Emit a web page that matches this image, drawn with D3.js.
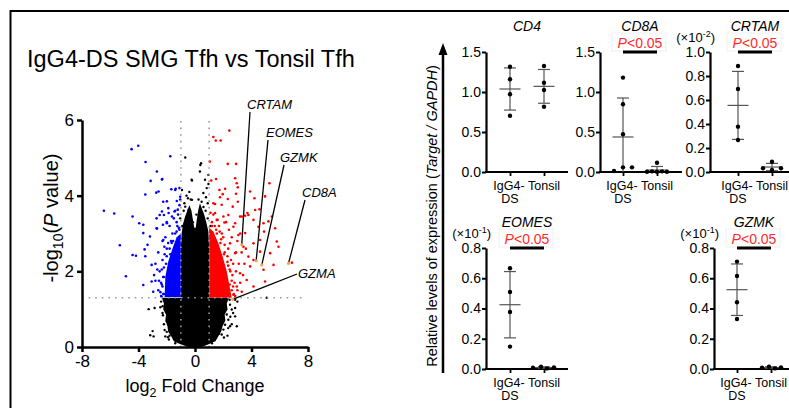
<!DOCTYPE html>
<html>
<head>
<meta charset="utf-8">
<title>IgG4-DS SMG Tfh vs Tonsil Tfh</title>
<script src="https://cdn.jsdelivr.net/npm/d3@7"></script>
<style>
  html, body { margin: 0; background: #fff; }
  svg { font-family: "Liberation Sans", Arial, sans-serif; }
</style>
</head>
<body>
<svg id="fig" width="789" height="408"></svg>
<script>
// ---- volcano plot data (log2 fold change, -log10 P) ----
var volcanoXTicks = [-8, -4, 0, 4, 8];
var volcanoYTicks = [0, 2, 4, 6];
var sigLine = 1.3;
var fcLines = [-1, 1];

// dense core of non-significant genes (outline)
var blackCloud = [[-0.5,0],[-1.2,0.1],[-1.5,0.15],[-1.7,0.3],[-1.9,0.4],[-1.95,0.55],[-2.1,0.7],[-2.05,0.85],
  [-2.25,1.0],[-2.2,1.15],[-2.35,1.3],[-1.0,1.3],
  [-1.0,2.6],[-0.95,3.0],[-0.85,3.25],[-0.7,3.45],[-0.55,3.6],[-0.4,3.75],[-0.25,3.6],[-0.12,3.3],[-0.05,3.15],
  [0.05,3.15],[0.12,3.35],[0.22,3.6],[0.35,3.8],[0.5,3.65],[0.65,3.5],[0.8,3.3],[0.95,3.05],[1.0,2.6],
  [1.0,1.3],[2.4,1.3],[2.25,1.15],[2.3,1.0],[2.1,0.85],[2.15,0.7],[1.95,0.55],[1.85,0.4],[1.6,0.25],
  [1.45,0.15],[1.0,0.08],[0.5,0]];
var volcanoBlack = [[-3.28,1.0],[-2.86,1.03],[-2.29,1.08],[-2.27,0.84],[-3.0,0.42],[-3.17,0.31],[-2.93,0.28],
  [-2.1,0.28],[-1.91,0.26],[-1.75,0.59],[-1.99,0.68],[-1.63,0.86],
  [2.84,1.25],[2.48,1.12],[2.6,0.99],[2.25,0.86],[2.84,0.81],[2.36,0.72],[2.96,0.55],[2.48,0.55],
  [2.13,0.59],[2.01,0.46],[1.89,0.33],[5.08,1.3],[2.84,1.03],
  [-0.69,5.01],[-0.21,4.4],[-0.92,4.15],[-0.5,3.93],[-0.21,3.89],[-0.69,3.71],[-0.45,3.63],
  [0.43,4.86],[0.35,4.64],[0.95,4.55],[0.71,4.42],[0.95,4.31],[0.83,4.2],[0.59,4.07],[0.78,3.96],
  [0.47,3.84],[0.9,3.8],[-0.24,4.42],[0.38,4.81],
  [-2.0,0.4],[-2.2,0.6],[-2.4,1.2],[-2.1,1.15],[-1.6,1.25],[2.3,0.3],[2.6,0.6],[2.2,1.0],[2.7,0.9],
  [3.0,1.2],[-0.6,4.0],[-0.4,4.1],[0.25,3.9],[0.6,3.7],[-0.8,3.6],[0.9,3.4],[-0.9,3.2],[0.15,3.2],
  [-0.15,3.3],[-1.4,0.1],[1.2,0.1],[-1.8,0.3],[1.7,0.35],[-2.3,0.9],[2.45,1.25],
  [-2.45,1.05],[-2.15,0.45],[-1.85,0.2],[2.05,0.25],[2.35,0.5],[2.5,0.8],[1.1,3.2],[-1.05,3.4],
  [-0.3,3.9],[0.1,3.5],[0.75,3.6],[-0.75,3.8]];

// down-regulated (blue)
var blueCore = [[-1.0,1.32],[-1.0,3.0],[-1.3,2.9],[-1.6,2.6],[-1.9,2.25],[-2.1,1.85],[-2.15,1.32]];
var volcanoBlue = [[-4.02,5.32],[-4.49,5.23],[-3.5,4.89],[-1.75,5.04],[-2.7,4.64],[-2.32,4.44],[-3.14,4.39],
  [-3.52,4.03],[-2.74,4.08],[-2.25,3.84],[-1.68,4.17],[-1.37,4.18],[-6.45,3.6],[-5.72,3.53],[-4.42,3.45],
  [-3.95,3.27],[-3.66,3.23],[-5.32,2.69],[-4.42,2.43],[-4.18,2.41],[-4.89,1.87],[-3.66,3.01],[-3.19,2.92],
  [-3.36,2.7],[-2.72,3.14],[-2.72,3.4],[-2.2,3.49],[-1.89,3.67],[-3.07,2.17],[-3.07,1.73],[-3.66,1.64],
  [-2.96,1.46],[-2.36,1.33],[-2.67,2.05],[-3.52,2.4],[-3.57,2.58],[-2.25,2.83],[-2.17,2.65],
  [-2.0,2.6],[-2.3,2.3],[-2.1,2.9],[-1.6,3.0],[-2.5,2.0],[-2.4,1.7],[-2.6,1.5],[-2.2,1.4],[-1.3,3.3],
  [-1.8,3.2],[-2.0,3.3],[-1.2,3.5],[-2.6,2.5],[-2.8,2.2],[-2.3,2.8],[-1.5,3.4],[-1.1,3.1],[-1.4,3.0],
  [-1.9,2.75],[-2.15,2.45],[-2.35,2.05],[-2.2,1.85],[-2.45,1.45],[-1.7,2.8],[-1.1,3.75],[-1.4,3.6],
  [-1.05,3.9],[-2.8,1.75],[-2.9,1.9],[-2.55,1.75],
  [-1.4,4.15],[-1.1,4.2],[-1.05,3.97],[-1.29,3.86],[-1.22,3.63],[-1.45,3.58],[-1.87,3.54],[-1.63,3.45],
  [-2.34,3.58],[-1.99,3.85],[-2.5,3.49],[-2.27,3.23],[-1.99,3.27],[-2.69,3.13],[-2.58,4.11],[-2.34,4.43],
  [-2.25,1.4],[-2.3,1.6],[-2.25,1.85],[-2.2,2.1],[-2.0,2.4],[-1.8,2.6],[-1.55,2.8],[-1.3,3.05],
  [-1.15,3.15],[-2.4,1.35],[-2.05,2.2],[-1.75,2.45],[-2.35,1.65],[-1.65,2.75],[-1.25,3.2]];

// up-regulated (red)
var redCore = [[1.0,1.3],[2.6,1.3],[2.45,1.6],[2.25,2.0],[1.95,2.4],[1.65,2.75],[1.3,3.05],[1.0,3.15]];
var volcanoRed = [[2.43,5.72],[1.3,5.55],[1.47,5.46],[1.82,5.46],[2.32,4.84],[2.91,4.84],[1.49,4.44],
  [2.84,4.46],[2.96,4.33],[3.03,4.22],[2.13,4.18],[1.73,4.15],[1.96,4.04],[2.91,4.05],[5.27,4.33],
  [3.9,4.11],[4.96,3.98],[1.77,3.96],[2.32,3.91],[3.03,3.84],[1.42,3.78],[1.89,3.76],[2.67,3.71],
  [4.21,3.93],[4.56,3.64],[1.42,3.54],[2.36,3.49],[3.55,3.47],[3.71,3.54],[4.14,3.36],[4.85,3.27],
  [5.44,3.45],[1.6,3.36],[2.08,3.29],[2.84,3.27],[3.31,3.45],
  [4.49,3.18],[4.89,3.05],[5.2,3.32],[5.67,3.14],[5.79,2.79],[5.91,2.65],[4.61,2.83],[5.32,2.48],
  [4.85,2.04],[4.96,1.73],[5.56,2.17],[6.86,2.23],[4.61,2.52],[4.14,2.74],[3.78,2.39],[3.9,2.13],
  [3.43,2.65],[3.19,1.95],[3.66,1.77],[4.14,1.6],[2.96,1.6],[3.31,1.46],[2.72,1.38],[4.14,2.3],
  [2.84,2.48],[2.48,2.74],[3.07,2.96],[3.55,3.01],[2.72,3.18],[2.01,3.45],[1.54,3.36],[3.19,3.45],
  [3.78,3.49],[4.26,3.62],
  [2.6,1.5],[2.8,1.7],[2.5,2.0],[2.7,2.2],[2.3,2.4],[2.9,2.5],[2.1,2.7],[2.6,2.9],[1.9,3.0],[1.4,3.2],
  [3.1,2.2],[3.3,2.5],[2.4,3.1],[3.0,2.8],[1.7,3.2],[2.2,1.8],[3.4,1.9],[3.0,1.5],[2.45,1.65],
  [2.35,2.15],[2.05,2.45],[1.8,2.75],[1.55,3.0],[1.2,3.3],[1.1,3.55],[2.65,1.9],[2.9,2.0],[3.2,1.7],
  [3.5,2.2],[3.6,2.6],[3.2,3.0],[2.2,3.3],[1.3,3.8],[1.15,4.4],[1.05,4.9],
  [2.75,1.4],[2.6,1.75],[2.45,2.05],[2.3,2.25],[2.1,2.5],[1.85,2.85],[1.5,3.1],[1.2,3.2],
  [2.85,1.35],[2.55,2.3],[2.35,2.6],[2.0,2.9],[1.75,3.05],[1.3,3.5],[2.7,1.6]];

// highlighted genes
var hlGenes = ["CRTAM", "EOMES", "GZMK", "CD8A", "GZMA"];
var hlFC = [3.31, 4.33, 4.73, 6.62, 2.67];
var hlP = [2.70, 2.28, 2.17, 2.21, 1.26];

// ---- qPCR panels ----
var panelGenes = ["CD4", "CD8A", "CRTAM", "EOMES", "GZMK"];
var groups = ["IgG4-DS", "Tonsil"];
var panelMax = [1.5, 1.5, 1.0, 0.8, 0.8];
var panelStep = [0.5, 0.5, 0.2, 0.2, 0.2];
var panelExp = [null, null, "-2", "-1", "-1"];
var panelP = [null, "<0.05", "<0.05", "<0.05", "<0.05"];
var igg4Values = [[1.316, 1.159, 0.971, 0.704], [1.18, 0.846, 0.471, 0.058, 0.013, 0.058],
  [0.883, 0.692, 0.378, 0.267], [0.666, 0.509, 0.377, 0.148], [0.71, 0.615, 0.441, 0.331]];
var tonsilValues = [[1.325, 1.116, 1.025, 0.816], [0.116, 0.004, 0.008, 0.003, 0.008, 0.004],
  [0.086, 0.031, 0.017, 0.031], [0.009, 0.015, 0.004, 0.011], [0.009, 0.015, 0.004, 0.011]];

// layout of the small panels
var panelLayout = [
  {x0: 486, top: 52, bottom: 172, pad: 24, jit: [[0,0,0,0], [0,0,0,0]]},
  {x0: 600, top: 52, bottom: 172, pad: 23, jit: [[0,0,0,0,-9,9], [0,-10,-5,0,5,10]]},
  {x0: 710, top: 52, bottom: 172, pad: 28, jit: [[0,0,0,0], [0,-9,0,9]]},
  {x0: 486, top: 248, bottom: 369, pad: 24, jit: [[0,0,0,0], [-11,-3,3,10]]},
  {x0: 714, top: 248, bottom: 369, pad: 23, jit: [[0,0,0,0], [-9,-2,4,10]]}
];
var labelPos = {
  CRTAM: {tx: 247, ty: 109, lx: 250, ly: 112},
  EOMES: {tx: 266, ty: 137, lx: 268, ly: 140},
  GZMK: {tx: 280, ty: 162, lx: 284, ly: 165},
  CD8A: {tx: 302, ty: 197, lx: 305, ly: 200},
  GZMA: {tx: 298, ty: 278, lx: 297, ly: 274}
};

var svg = d3.select("#fig");

// frame
svg.append("path").attr("d", "M10.5,408V11H789").attr("fill", "none")
  .attr("stroke", "#000").attr("stroke-width", 2);

svg.append("text").attr("x", 27).attr("y", 67).attr("font-size", 23.5)
  .text("IgG4-DS SMG Tfh vs Tonsil Tfh");

// ---- volcano ----
var vx = d3.scaleLinear().domain([-8, 8]).range([82, 308]);
var vy = d3.scaleLinear().domain([0, 6]).range([347, 120]);
var poly = d3.line().x(function(d) { return vx(d[0]); }).y(function(d) { return vy(d[1]); });
var v = svg.append("g");

function dots(data, color, r) {
  v.append("g").selectAll("circle").data(data).join("circle")
    .attr("cx", function(d) { return vx(d[0]); })
    .attr("cy", function(d) { return vy(d[1]); })
    .attr("r", r).attr("fill", color);
}

v.append("path").attr("d", poly(blackCloud) + "Z").attr("fill", "#000");
dots(volcanoBlack, "#000", 1.2);
v.append("path").attr("d", poly(blueCore) + "Z").attr("fill", "#0000ff");
dots(volcanoBlue, "#0000ff", 1.3);
v.append("path").attr("d", poly(redCore) + "Z").attr("fill", "#ff0000");
dots(volcanoRed, "#ff0000", 1.3);

// threshold lines
v.append("line").attr("x1", vx(-8)).attr("x2", vx(7.8))
  .attr("y1", vy(sigLine)).attr("y2", vy(sigLine))
  .attr("stroke", "#9a9a9a").attr("stroke-width", 1.6).attr("stroke-dasharray", "1.6,5");
fcLines.forEach(function(f) {
  v.append("line").attr("x1", vx(f)).attr("x2", vx(f)).attr("y1", vy(0)).attr("y2", vy(6))
    .attr("stroke", "#9a9a9a").attr("stroke-width", 1.6).attr("stroke-dasharray", "1.6,5");
});

// gene annotations
hlGenes.forEach(function(gene, i) {
  var p = labelPos[gene];
  v.append("line").attr("x1", p.lx).attr("y1", p.ly).attr("x2", vx(hlFC[i])).attr("y2", vy(hlP[i]))
    .attr("stroke", "#000").attr("stroke-width", 1.3);
  v.append("circle").attr("cx", vx(hlFC[i])).attr("cy", vy(hlP[i])).attr("r", 1.6).attr("fill", "#f6a443");
  v.append("text").attr("x", p.tx).attr("y", p.ty).attr("font-size", 13)
    .attr("font-style", "italic").text(gene);
});

// axes
var gx = v.append("g").attr("transform", "translate(0," + vy(0) + ")")
  .call(d3.axisBottom(vx).tickValues(volcanoXTicks).tickSize(5).tickSizeOuter(0)
    .tickFormat(function(d) { return String(d); }));
var gy = v.append("g").attr("transform", "translate(" + vx(-8) + ",0)")
  .call(d3.axisLeft(vy).tickValues(volcanoYTicks).tickSize(5).tickSizeOuter(0)
    .tickFormat(d3.format("d")));
[gx, gy].forEach(function(g) {
  g.attr("font-size", 17).attr("font-family", null);
  g.select(".domain").attr("stroke-width", 2.5);
  g.selectAll(".tick line").attr("stroke-width", 2.5);
  g.selectAll(".tick text").attr("fill", "#000");
});
gy.selectAll(".tick text").attr("x", -8);

var xl = v.append("text").attr("x", 195).attr("y", 392).attr("text-anchor", "middle").attr("font-size", 18);
xl.append("tspan").text("log");
xl.append("tspan").attr("font-size", 12.5).attr("dy", 5).text("2");
xl.append("tspan").attr("dy", -5).text(" Fold Change");

var yl = v.append("text").attr("transform", "translate(58,218) rotate(-90)")
  .attr("text-anchor", "middle").attr("font-size", 20);
yl.append("tspan").text("-log");
yl.append("tspan").attr("font-size", 14).attr("dy", 5).text("10");
yl.append("tspan").attr("dy", -5).text("(");
yl.append("tspan").attr("font-style", "italic").text("P");
yl.append("tspan").text(" value)");

// ---- shared y label with arrow ----
svg.append("line").attr("x1", 443).attr("x2", 443).attr("y1", 373).attr("y2", 52)
  .attr("stroke", "#000").attr("stroke-width", 2.5);
svg.append("path").attr("d", "M443,43L438.5,55L447.5,55Z").attr("fill", "#000");
var rl = svg.append("text").attr("transform", "translate(437,216) rotate(-90)")
  .attr("text-anchor", "middle").attr("font-size", 14.5);
rl.append("tspan").text("Relative levels of expression (");
rl.append("tspan").attr("font-style", "italic").text("Target / GAPDH");
rl.append("tspan").text(")");

// ---- small dot plots ----
panelGenes.forEach(function(gene, i) {
  var L = panelLayout[i];
  var y = d3.scaleLinear().domain([0, panelMax[i]]).range([L.bottom, L.top]);
  var x = d3.scalePoint().domain(groups).range([L.x0 + L.pad, L.x0 + L.pad + 34]);
  var g = svg.append("g");
  var ticks = d3.range(0, panelMax[i] + 1e-9, panelStep[i]);

  var ay = g.append("g").attr("transform", "translate(" + L.x0 + ",0)")
    .call(d3.axisLeft(y).tickValues(ticks).tickFormat(d3.format(".1f")).tickSize(4).tickSizeOuter(0));
  ay.attr("font-size", 14).attr("font-family", null);
  ay.select(".domain").attr("stroke-width", 2.2);
  ay.selectAll(".tick line").attr("stroke-width", 2);
  ay.selectAll(".tick text").attr("fill", "#000").attr("x", -5);

  var ax = g.append("g").attr("transform", "translate(0," + L.bottom + ")")
    .call(d3.axisBottom(x).tickSize(4).tickSizeOuter(0).tickFormat(function() { return ""; }));
  ax.select(".domain").remove();
  ax.selectAll(".tick line").attr("stroke-width", 1.8);
  g.append("line").attr("x1", L.x0 - 1).attr("x2", L.x0 + 82).attr("y1", L.bottom).attr("y2", L.bottom)
    .attr("stroke", "#000").attr("stroke-width", 2.2);

  groups.forEach(function(grp) {
    grp.split(/(?<=-)/).forEach(function(part, k) {
      g.append("text").attr("text-anchor", "middle").attr("font-size", 12.5)
        .attr("x", x(grp) + (k === 0 && grp === groups[0] ? -1 : 0))
        .attr("y", L.bottom + 18 + k * 13).text(part);
    });
  });

  var cx = (x(groups[0]) + x(groups[1])) / 2;
  g.append("text").attr("x", cx).attr("y", L.top - 21).attr("text-anchor", "middle")
    .attr("font-size", 14).attr("font-style", "italic").text(gene);

  if (panelP[i]) {
    g.append("rect").attr("x", cx - 28).attr("y", L.top - 19).attr("width", 54).attr("height", 18)
      .attr("fill", "none").attr("stroke", "#efefef").attr("stroke-width", 1);
    var pt = g.append("text").attr("x", cx).attr("y", L.top - 4.5).attr("text-anchor", "middle")
      .attr("font-size", 14).attr("fill", "#ff2a2a");
    pt.append("tspan").attr("font-style", "italic").text("P");
    pt.append("tspan").text(panelP[i]);
    g.append("line").attr("x1", x(groups[0])).attr("x2", x(groups[1])).attr("y1", L.top).attr("y2", L.top)
      .attr("stroke", "#000").attr("stroke-width", 3);
  }
  if (panelExp[i]) {
    var et = g.append("text").attr("x", L.x0 + 5).attr("y", L.top - 10).attr("text-anchor", "end")
      .attr("font-size", 13);
    et.append("tspan").text("(\u00d710");
    et.append("tspan").attr("font-size", 9).attr("dy", -5).text(panelExp[i]);
    et.append("tspan").attr("dy", 5).text(")");
  }

  [igg4Values[i], tonsilValues[i]].forEach(function(vals, k) {
    var px = x(groups[k]);
    var m = d3.mean(vals), sd = d3.deviation(vals);
    var hi = m + sd, lo = Math.max(0, m - sd);
    var eb = g.append("g").attr("stroke", "#555").attr("stroke-width", 1.2);
    eb.append("line").attr("x1", px).attr("x2", px).attr("y1", y(hi)).attr("y2", y(lo));
    eb.append("line").attr("x1", px - 10.5).attr("x2", px + 10.5).attr("y1", y(m)).attr("y2", y(m));
    eb.append("line").attr("x1", px - 6).attr("x2", px + 6).attr("y1", y(hi)).attr("y2", y(hi));
    if (lo > 0) eb.append("line").attr("x1", px - 6).attr("x2", px + 6).attr("y1", y(lo)).attr("y2", y(lo));
    g.append("g").selectAll("circle").data(vals).join("circle")
      .attr("cx", function(d, j) { return px + L.jit[k][j]; })
      .attr("cy", function(d) { return y(d); })
      .attr("r", 2.2).attr("fill", "#000");
  });
});
</script>
</body>
</html>
